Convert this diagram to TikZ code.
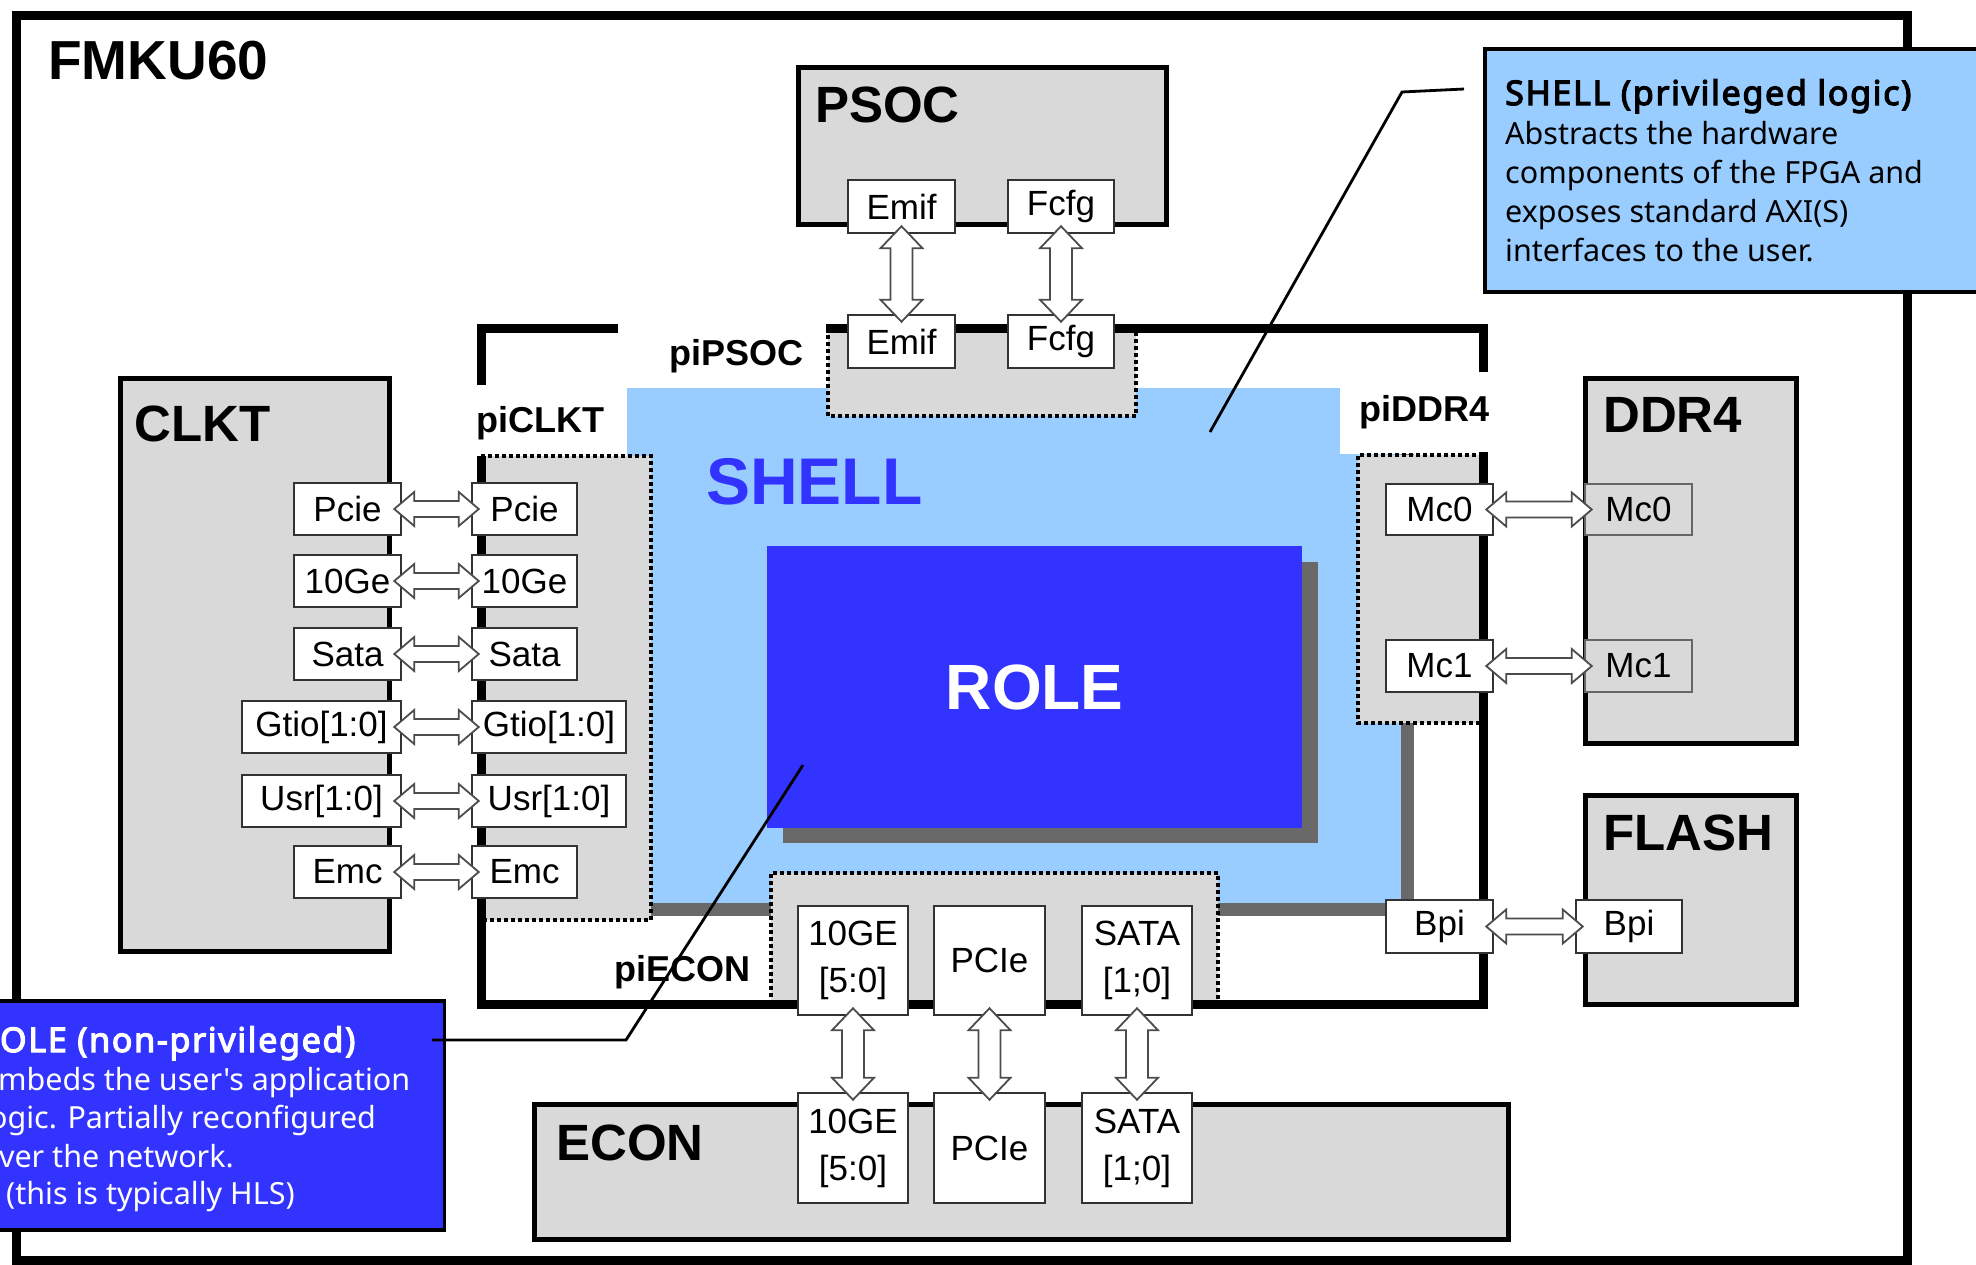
\documentclass[tikz,border=0pt]{standalone}
\usepackage{fontspec}
\setmainfont{Liberation Sans}
\newfontfamily\notefont{Noto Sans}
\newfontfamily\noteboldfont{Noto Sans}[FakeBold=3.5,LetterSpace=5]
\usetikzlibrary{calc}
\definecolor{boxgray}{RGB}{217,217,217}
\definecolor{shellblue}{RGB}{153,204,255}
\definecolor{roleblue}{RGB}{51,51,255}
\definecolor{shadowgray}{RGB}{105,105,105}
\tikzset{
 bigbox/.style={draw=black, line width=5pt, fill=boxgray, inner sep=0pt},
 boxtitle/.style={anchor=base west, inner sep=0pt, font=\fontsize{51pt}{56pt}\selectfont\bfseries},
 pilabel/.style={anchor=base west, inner sep=0pt, font=\fontsize{36pt}{40pt}\selectfont\bfseries},
 port/.style={draw=black!80, fill=white, line width=2.5pt, inner sep=0pt, minimum height=52pt, font=\fontsize{35pt}{40pt}\selectfont},
 grayport/.style={port, fill=boxgray, draw=black!60},
 tallport/.style={port, align=center, minimum height=109pt, font=\fontsize{35pt}{47pt}\selectfont},
 dotregion/.style={draw=black, line width=4pt, dash pattern=on 4pt off 3pt},
 frameline/.style={draw=black, line width=9pt, line cap=butt, line join=miter},
 harr/.style={fill=white, draw=black!70, line width=1.8pt, line join=miter,
   to path={let \p1=(\tikztostart), \p2=(\tikztotarget) in
     (\x1-8pt,\y1) -- (\x1+12pt,\y1+17pt) -- (\x1+12pt,\y1+8pt) -- (\x2-12pt,\y2+8pt)
     -- (\x2-12pt,\y2+17pt) -- (\x2+8pt,\y2) -- (\x2-12pt,\y2-17pt) -- (\x2-12pt,\y2-8pt)
     -- (\x1+12pt,\y1-8pt) -- (\x1+12pt,\y1-17pt) -- cycle}},
 varr/.style={fill=white, draw=black!70, line width=1.8pt, line join=miter,
   to path={let \p1=(\tikztostart), \p2=(\tikztotarget) in
     (\x1,\y1+8pt) -- (\x1+21pt,\y1-14pt) -- (\x1+11pt,\y1-14pt) -- (\x2+11pt,\y2+14pt)
     -- (\x2+21pt,\y2+14pt) -- (\x2,\y2-8pt) -- (\x2-21pt,\y2+14pt) -- (\x2-11pt,\y2+14pt)
     -- (\x1-11pt,\y1-14pt) -- (\x1-21pt,\y1-14pt) -- cycle}},
 leader/.style={draw=black, line width=2.8pt, line join=miter},
 notetext/.style={anchor=base west, inner sep=0pt, font=\notefont\fontsize{30.5pt}{39pt}\selectfont},
 notetitle/.style={anchor=base west, inner sep=0pt, font=\noteboldfont\fontsize{34pt}{39pt}\selectfont},
}
\begin{document}
\begin{tikzpicture}[x=1pt,y=-1pt]
\path[use as bounding box] (0,0) rectangle (1976,1264);
\clip (0,0) rectangle (1976,1264);
\fill[white] (0,0) rectangle (1976,1264);

% outer frame
\draw[frameline] (16,15) rectangle (1907,1260);
\node[anchor=base west, inner sep=0pt, font=\fontsize{55pt}{60pt}\selectfont\bfseries] (fmku) at (48,79) {FMKU60};

% SHELL region
\fill[shadowgray] (640,401) rectangle (1414,916);
\node[fill=shellblue, inner sep=0pt, minimum width=774pt, minimum height=515pt, anchor=north west] (shell) at (627,388) {};
\fill[white] (1340,384) rectangle (1483,454);

% dotted port regions
\fill[boxgray] (828,328) rectangle (1136,416);
\draw[dotregion] (828,328) -- (828,416) -- (1136,416) -- (1136,328);
\fill[boxgray] (481,456) rectangle (651,920);
\draw[dotregion] (481,456) -- (651,456) -- (651,920) -- (481,920);
\fill[boxgray] (1358,455) rectangle (1483,723);
\draw[dotregion] (1483,455) -- (1358,455) -- (1358,723) -- (1483,723);
\fill[boxgray] (771,873) rectangle (1218,1004);
\draw[dotregion] (771,1004) -- (771,873) -- (1218,873) -- (1218,1004);

% shell frame
\draw[frameline] (618,328) -- (481,328) -- (481,385);
\draw[frameline] (481,456) -- (481,1004) -- (1483,1004) -- (1483,452);
\draw[frameline] (1483,372) -- (1483,328) -- (826,328);

% ROLE
\fill[shadowgray] (783,562) rectangle (1318,843);
\node[fill=roleblue, inner sep=0pt, minimum width=535pt, minimum height=282pt, anchor=north west, text=white, font=\fontsize{64pt}{70pt}\selectfont\bfseries] (role) at (767,546) {ROLE};

\node[anchor=base west, inner sep=0pt, text=roleblue, font=\fontsize{66pt}{72pt}\selectfont\bfseries] (shelltxt) at (706,504) {SHELL};
\node[pilabel] (pipsoc) at (669,365) {piPSOC};
\node[pilabel] (piclkt) at (476,432) {piCLKT};
\node[pilabel] (piddr) at (1359,421) {piDDR4};
\node[pilabel] (piecon) at (614,981) {piECON};

% external boxes
\node[bigbox, minimum width=368pt, minimum height=157pt] (psoc) at (982,145.5) {};
\node[boxtitle] (psoct) at (815,122) {PSOC};
\node[bigbox, minimum width=269pt, minimum height=573pt] (clkt) at (254.5,664.5) {};
\node[boxtitle] (clktt) at (134,441) {CLKT};
\node[bigbox, minimum width=211pt, minimum height=365pt] (ddr) at (1690.5,560.5) {};
\node[boxtitle] (ddrt) at (1603,432) {DDR4};
\node[bigbox, minimum width=211pt, minimum height=209pt] (flash) at (1690.5,899.5) {};
\node[boxtitle] (flasht) at (1603,850) {FLASH};
\node[bigbox, minimum width=974pt, minimum height=135pt] (econ) at (1021,1171.5) {};
\node[boxtitle] (econt) at (556,1160) {ECON};

% CLKT ports
\node[port, minimum width=107pt] (cl1) at (347.5,509) {Pcie};
\node[port, minimum width=107pt] (cl2) at (347.5,581) {10Ge};
\node[port, minimum width=107pt] (cl3) at (347.5,654) {Sata};
\node[port, minimum width=159pt] (cl4) at (321.5,727) {Gtio[1:0]};
\node[port, minimum width=159pt] (cl5) at (321.5,801) {Usr[1:0]};
\node[port, minimum width=107pt] (cl6) at (347.5,872) {Emc};
\node[port, minimum width=105pt] (pc1) at (524.5,509) {Pcie};
\node[port, minimum width=105pt] (pc2) at (524.5,581) {10Ge};
\node[port, minimum width=105pt] (pc3) at (524.5,654) {Sata};
\node[port, minimum width=154pt] (pc4) at (549,727) {Gtio[1:0]};
\node[port, minimum width=154pt] (pc5) at (549,801) {Usr[1:0]};
\node[port, minimum width=105pt] (pc6) at (524.5,872) {Emc};
\foreach \i in {1,...,6} { \draw[harr] (cl\i.east) to (pc\i.west); }

% PSOC ports
\node[port, minimum width=107pt, minimum height=53pt] (pe1) at (901.5,206.5) {Emif};
\node[port, minimum width=106pt, minimum height=53pt] (pf1) at (1061,206.5) {Fcfg};
\node[port, minimum width=107pt, minimum height=53pt] (pe2) at (901.5,341.5) {Emif};
\node[port, minimum width=106pt, minimum height=53pt] (pf2) at (1061,341.5) {Fcfg};
\draw[varr] (pe1.south) to (pe2.north);
\draw[varr] (pf1.south) to (pf2.north);

% DDR4 / FLASH ports
\node[port, minimum width=107pt, minimum height=51pt] (sm0) at (1439.5,509.5) {Mc0};
\node[port, minimum width=107pt] (sm1) at (1439.5,666) {Mc1};
\node[grayport, minimum width=107pt, minimum height=51pt] (dm0) at (1638.5,509.5) {Mc0};
\node[grayport, minimum width=107pt] (dm1) at (1638.5,666) {Mc1};
\node[port, minimum width=107pt, minimum height=53pt] (sb) at (1439.5,926.5) {Bpi};
\node[port, minimum width=106pt, minimum height=53pt] (fb) at (1629,926.5) {Bpi};
\draw[harr] (sm0.east) to (dm0.west);
\draw[harr] (sm1.east) to (dm1.west);
\draw[harr] (sb.east) to (fb.west);

% ECON ports
\node[tallport, minimum width=110pt] (et1) at (853,960.5) {10GE\\{}[5:0]};
\node[tallport, minimum width=111pt] (et2) at (989.5,960.5) {PCIe};
\node[tallport, minimum width=110pt] (et3) at (1137,960.5) {SATA\\{}[1;0]};
\node[tallport, minimum width=110pt, minimum height=110pt] (eb1) at (853,1148) {10GE\\{}[5:0]};
\node[tallport, minimum width=111pt, minimum height=110pt] (eb2) at (989.5,1148) {PCIe};
\node[tallport, minimum width=110pt, minimum height=110pt] (eb3) at (1137,1148) {SATA\\{}[1;0]};
\draw[varr] (et1.south) to (eb1.north);
\draw[varr] (et2.south) to (eb2.north);
\draw[varr] (et3.south) to (eb3.north);

% SHELL callout
\node[draw=black, line width=3.5pt, fill=shellblue, inner sep=0pt, minimum width=620pt, minimum height=243pt, anchor=north west] (shellnote) at (1483,47) {};
\node[notetitle] (sn1) at (1505,105) {SHELL (privileged logic)};
\node[notetext] (sn2) at (1505,144) {Abstracts the hardware};
\node[notetext] (sn3) at (1505,183) {components of the FPGA and};
\node[notetext] (sn4) at (1505,222) {exposes standard AXI(S)};
\node[notetext] (sn5) at (1505,261) {interfaces to the user.};
\coordinate (s1) at (1464,89);
\coordinate (s2) at (1402,92);
\coordinate (s3) at (1210,432);
\draw[leader] (s1) -- (s2) -- (s3);

% ROLE callout
\node[draw=black, line width=3.5pt, fill=roleblue, inner sep=0pt, minimum width=520pt, minimum height=229pt, anchor=north east] (rolenote) at (446,999) {};
\node[notetitle, text=white] (rn1) at (-23,1052) {ROLE (non-privileged)};
\node[notetext, text=white] (rn2) at (-19,1090) {Embeds the user's application};
\node[notetext, text=white] (rn3) at (-19,1128) {logic. Partially reconfigured};
\node[notetext, text=white] (rn4) at (-19,1167) {over the network.};
\node[notetext, text=white] (rn5) at (6,1204) {(this is typically HLS)};
\coordinate (r1) at (432,1040);
\coordinate (r2) at (626,1040);
\coordinate (r3) at (803,765);
\draw[leader] (r1) -- (r2) -- (r3);
\end{tikzpicture}
\end{document}
